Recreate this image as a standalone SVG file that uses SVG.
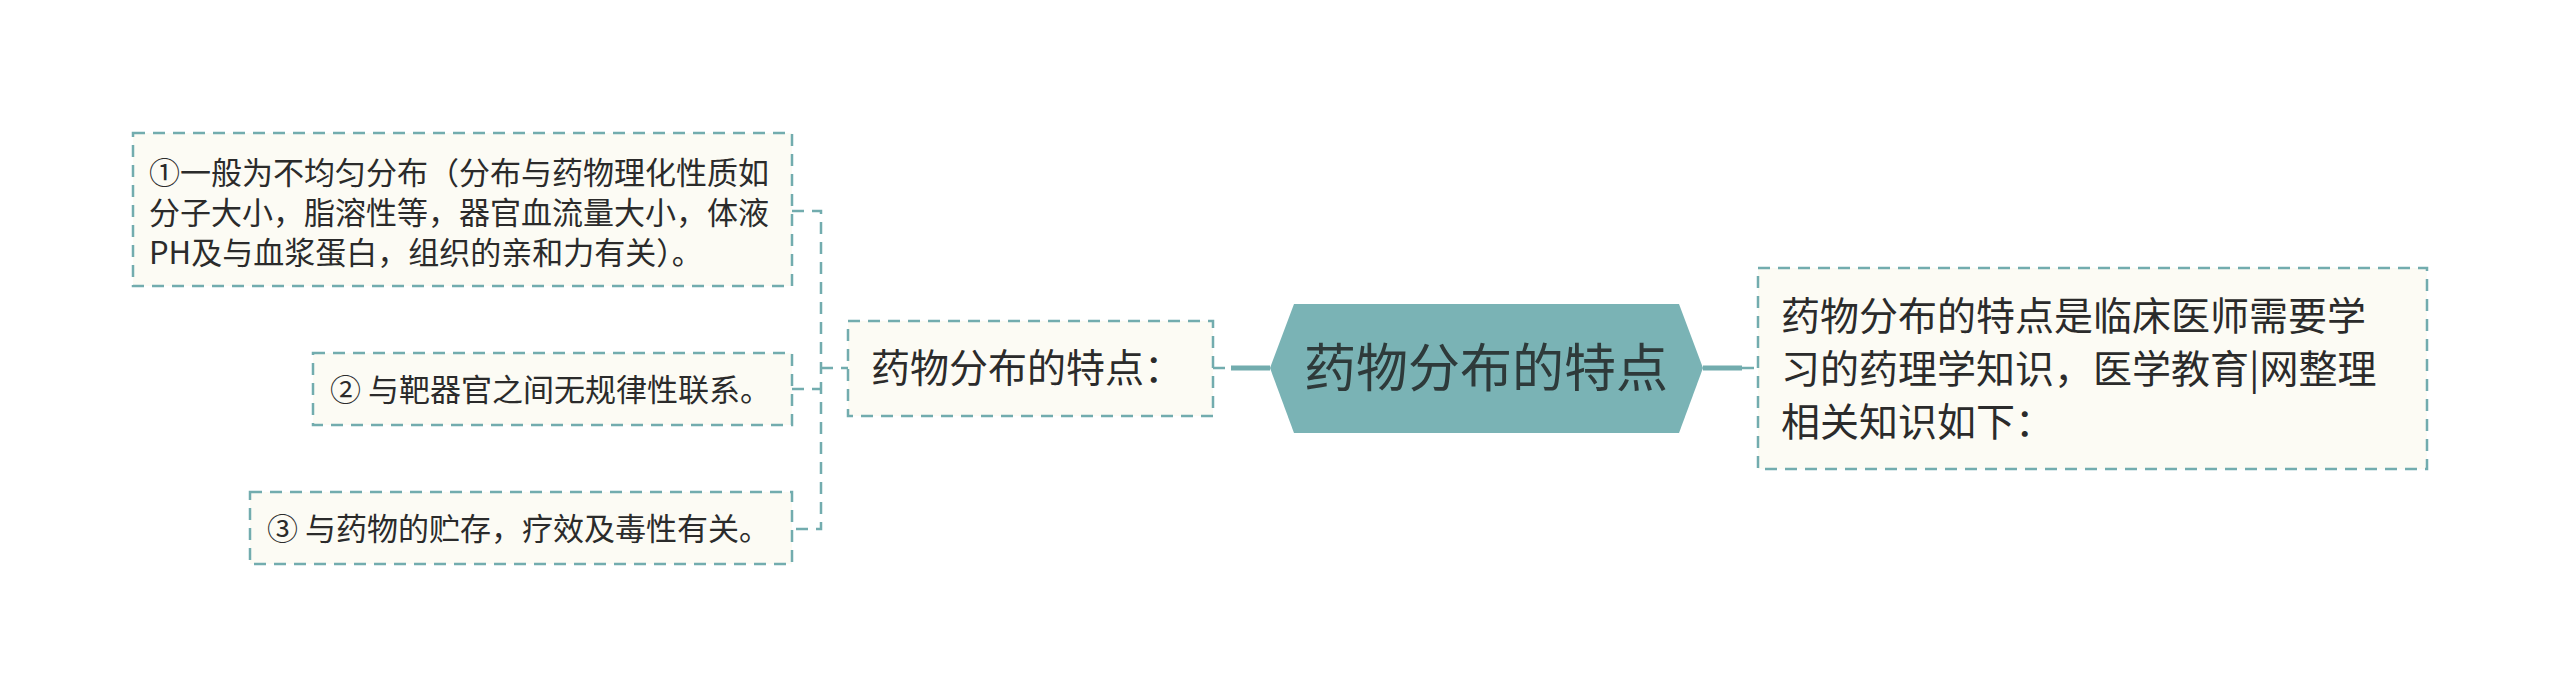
<svg xmlns="http://www.w3.org/2000/svg" width="2560" height="698" viewBox="0 0 2560 698">
<style>
.box{fill:#fcfbf4;stroke:#72acae;stroke-width:2.5;stroke-dasharray:12 8}
.t{font-family:"Noto Sans CJK SC","Noto Sans",sans-serif;fill:#2b2b2b}
.s{font-size:31px}
.m{font-size:39px}
.c{font-size:52px;fill:#2e3a3a}
.dl{fill:none;stroke:#72acae;stroke-width:2.5;stroke-dasharray:12 8}
.sl{fill:none;stroke:#72acae;stroke-width:5}
</style>
<rect width="2560" height="698" fill="#ffffff"/>
<g id="connectors">
<path class="dl" d="M792 211 H821 V529 H792 M792 389 H821 M821 368 H848"/>
<path class="dl" d="M1213 368 H1231" stroke-dasharray="6 6"/>
<path class="sl" d="M1231 368 H1270"/>
<path class="sl" d="M1703 368 H1742"/>
<path class="dl" d="M1742 368 H1758" stroke-dasharray="6 5"/>
</g>
<g id="center">
<polygon points="1270,368 1294,304 1679,304 1703,368 1679,433 1294,433" fill="#7ab3b5"/>
<text class="t c" x="1486" y="387" text-anchor="middle">药物分布的特点</text>
</g>
<g id="mid">
<rect class="box" x="848" y="321" width="365" height="95"/>
<text class="t m" x="871" y="382">药物分布的特点：</text>
</g>
<g id="n1">
<rect class="box" x="133" y="133" width="659" height="153"/>
<text class="t s" x="149" y="184">①一般为不均匀分布（分布与药物理化性质如</text>
<text class="t s" x="149" y="224">分子大小，脂溶性等，器官血流量大小，体液</text>
<text class="t s" x="149" y="264">PH及与血浆蛋白，组织的亲和力有关）。</text>
</g>
<g id="n2">
<rect class="box" x="313" y="353" width="479" height="72"/>
<text class="t s" x="330" y="401">② 与靶器官之间无规律性联系。</text>
</g>
<g id="n3">
<rect class="box" x="250" y="492" width="542" height="72"/>
<text class="t s" x="267" y="540">③ 与药物的贮存，疗效及毒性有关。</text>
</g>
<g id="right">
<rect class="box" x="1758" y="268" width="669" height="201"/>
<text class="t m" x="1781" y="330">药物分布的特点是临床医师需要学</text>
<text class="t m" x="1781" y="383">习的药理学知识，医学教育|网整理</text>
<text class="t m" x="1781" y="436">相关知识如下：</text>
</g>
</svg>
